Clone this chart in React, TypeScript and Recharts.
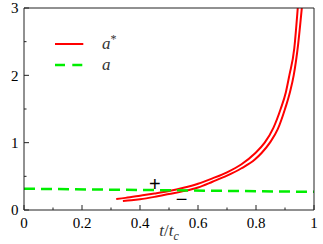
import React from 'react';
import { LineChart, Line, XAxis, YAxis, Legend, ReferenceDot, Label } from 'recharts';

// upper red branch (a*)
const upperT = [0.318, 0.35, 0.4, 0.45, 0.5, 0.55, 0.6, 0.65, 0.7, 0.75, 0.796, 0.83, 0.86, 0.885, 0.903, 0.915, 0.932, 0.944];
const upperA = [0.163, 0.18, 0.212, 0.245, 0.282, 0.33, 0.39, 0.47, 0.56, 0.68, 0.84, 1.0, 1.22, 1.5, 1.75, 2.0, 2.4, 3.0];
// lower red branch (a*)
const lowerT = [0.341, 0.37, 0.4, 0.45, 0.5, 0.55, 0.6, 0.65, 0.7, 0.75, 0.796, 0.82, 0.848, 0.875, 0.9, 0.917, 0.93, 0.945, 0.958];
const lowerA = [0.134, 0.145, 0.16, 0.195, 0.237, 0.28, 0.335, 0.42, 0.51, 0.62, 0.75, 0.85, 1.0, 1.2, 1.5, 1.75, 2.0, 2.45, 3.0];
// green dashed (a)
const aT = [0, 1];
const aV = [0.316, 0.27];

const xTicks = [0, 0.1, 0.2, 0.3, 0.4, 0.5, 0.6, 0.7, 0.8, 0.9, 1];
const yTicks = [0, 0.5, 1, 1.5, 2, 2.5, 3];

const marks = [
  { t: 0.451, a: 0.386, text: '+' },
  { t: 0.543, a: 0.163, text: '\u2212' },
];

const upper = upperT.map((t, i) => ({ t, a: upperA[i] }));
const lower = lowerT.map((t, i) => ({ t, a: lowerA[i] }));
const green = aT.map((t, i) => ({ t, a: aV[i] }));

const serifFont = 'Liberation Serif';
const axisColor = '#222';

const isMajorX = (v: number) => Math.round(v * 10) % 2 === 0;
const isMajorY = (v: number) => Math.round(v * 2) % 2 === 0;

const BottomTick = ({ x, y, payload }: any) => {
  const major = isMajorX(payload.value);
  return (
    <g>
      <line x1={x} x2={x} y1={y} y2={y - (major ? 5 : 2.5)} stroke={axisColor} />
      {major && (
        <text x={x} y={y + 12.5} dy="0.35em" textAnchor="middle" fontFamily={serifFont} fontSize={15} fill="#000">
          {String(payload.value)}
        </text>
      )}
    </g>
  );
};

const TopTick = ({ x, y, payload }: any) => {
  const major = isMajorX(payload.value);
  return <line x1={x} x2={x} y1={y} y2={y + (major ? 5 : 2.5)} stroke={axisColor} />;
};

const LeftTick = ({ x, y, payload }: any) => {
  const major = isMajorY(payload.value);
  return (
    <g>
      <line x1={x} x2={x + (major ? 5 : 2.5)} y1={y} y2={y} stroke={axisColor} />
      {major && (
        <text x={x - 5.5} y={y} dy="0.35em" textAnchor="end" fontFamily={serifFont} fontSize={15} fill="#000">
          {String(payload.value)}
        </text>
      )}
    </g>
  );
};

const RightTick = ({ x, y, payload }: any) => {
  const major = isMajorY(payload.value);
  return <line x1={x} x2={x - (major ? 5 : 2.5)} y1={y} y2={y} stroke={axisColor} />;
};

const renderLegend = ({ payload }: any) => {
  const seen = new Set<string>();
  const items = (payload || [])
    .filter((p: any) => {
      if (p.type === 'none' || p.inactive || seen.has(p.value)) return false;
      seen.add(p.value);
      return true;
    })
    // a* above a
    .sort((p: any, q: any) => q.value.length - p.value.length);
  return (
    <svg width={90} height={50} style={{ overflow: 'visible', display: 'block' }}>
      {items.map((entry: any, i: number) => {
        const y = 10 + i * 21;
        const dash = entry.payload?.strokeDasharray;
        const star = entry.value.endsWith('*');
        return (
          <g key={entry.value}>
            <line x1={5} x2={33.3} y1={y} y2={y} stroke={entry.color} strokeWidth={dash ? 2.5 : 2} strokeDasharray={dash ? '10 7.3' : undefined} />
            <text x={52} y={y + 4.5} fontFamily={serifFont} fontStyle="italic" fontSize={17} fill="#333">
              {star ? entry.value.slice(0, -1) : entry.value}
              {star && <tspan dy={-6} fontSize={12} fontStyle="normal">*</tspan>}
            </text>
          </g>
        );
      })}
    </svg>
  );
};

const MarkText = (text: string) => ({ cx, cy }: any) => (
  <text x={cx} y={cy} dominantBaseline="central" textAnchor="middle" fontFamily="Liberation Sans" fontSize={20} fill="#000">
    {text}
  </text>
);

const AxisTitle = ({ viewBox }: any) => {
  const cx = viewBox.x + viewBox.width / 2;
  const by = viewBox.y + 26;
  return (
    <text x={cx} y={by} textAnchor="middle" fontFamily={serifFont} fontSize={17} fill="#333">
      <tspan fontStyle="italic">t</tspan>
      <tspan>/</tspan>
      <tspan fontStyle="italic">t</tspan>
      <tspan fontStyle="italic" fontSize={12} dy={4}>c</tspan>
    </text>
  );
};

export default function App() {
  return (
    <div style={{ position: 'absolute', left: 0, top: 0, background: '#fff', fontFamily: serifFont }}>
      <LineChart width={323} height={244} margin={{ top: 7, right: 0, bottom: 0, left: 0 }}>
        <XAxis
          dataKey="t"
          type="number"
          domain={[0, 1]}
          ticks={xTicks}
          interval={0}
          height={34}
          tickLine={false}
          tickSize={0}
          tickMargin={0}
          tick={<BottomTick />}
          stroke={axisColor}
        >
          <Label content={<AxisTitle />} />
        </XAxis>
        <XAxis
          xAxisId="top"
          orientation="top"
          dataKey="t"
          type="number"
          domain={[0, 1]}
          ticks={xTicks}
          interval={0}
          height={1}
          tickLine={false}
          tickSize={0}
          tickMargin={0}
          tick={<TopTick />}
          stroke={axisColor}
        />
        <YAxis
          type="number"
          domain={[0, 3]}
          allowDataOverflow
          ticks={yTicks}
          interval={0}
          width={24}
          tickLine={false}
          tickSize={0}
          tickMargin={0}
          tick={<LeftTick />}
          stroke={axisColor}
        />
        <YAxis
          yAxisId="right"
          orientation="right"
          type="number"
          domain={[0, 3]}
          ticks={yTicks}
          interval={0}
          width={9}
          tickLine={false}
          tickSize={0}
          tickMargin={0}
          tick={<RightTick />}
          stroke={axisColor}
        />
        <Legend
          layout="horizontal"
          verticalAlign="middle"
          align="center"
          content={renderLegend}
          wrapperStyle={{ left: 50, top: 34, width: 90, height: 50 }}
        />
        <Line data={upper} dataKey="a" name="a*" type="monotone" stroke="#ff0000" strokeWidth={2} dot={false} isAnimationActive={false} />
        <Line data={lower} dataKey="a" name="a*" legendType="none" type="monotone" stroke="#ff0000" strokeWidth={2} dot={false} isAnimationActive={false} />
        <Line data={green} dataKey="a" name="a" type="linear" stroke="#00ee00" strokeWidth={2.5} strokeDasharray="11 6" dot={false} isAnimationActive={false} />
        {marks.map((m) => (
          <ReferenceDot key={m.text} x={m.t} y={m.a} r={0} shape={MarkText(m.text)} />
        ))}
      </LineChart>
    </div>
  );
}
